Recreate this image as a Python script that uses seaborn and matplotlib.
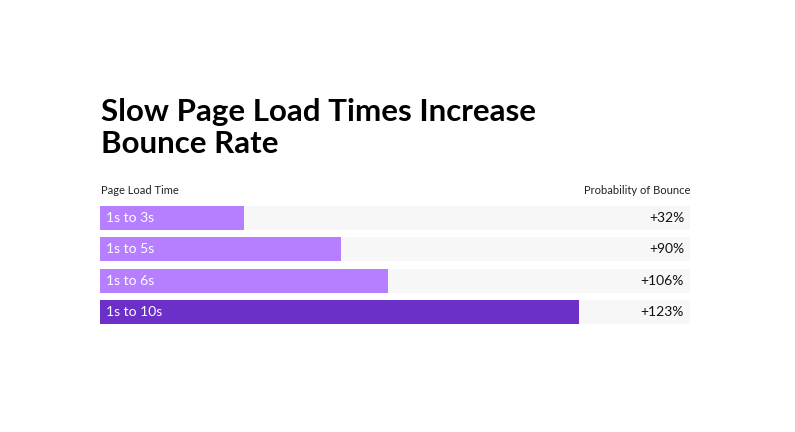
import matplotlib
matplotlib.use("Agg")
import matplotlib.pyplot as plt
import seaborn as sns
import pandas as pd

sns.set_theme(style="white")
plt.rcParams['font.family'] = ['Lato', 'DejaVu Sans']

# data
load_times = ["1s to 3s", "1s to 5s", "1s to 6s", "1s to 10s"]
bounce_labels = ["+32%", "+90%", "+106%", "+123%"]
bar_fill = [24.4, 40.8, 48.8, 81.2]   # bar length, % of the track
track = [100, 100, 100, 100]
bar_colors = ["#B57FFF", "#B57FFF", "#B57FFF", "#6A30C7"]
title_lines = ["Slow Page Load Times Increase", "Bounce Rate"]

df = pd.DataFrame({"time": load_times, "fill": bar_fill, "track": track})

W, H = 795, 432
fig = plt.figure(figsize=(W / 100, H / 100), dpi=100)

# axes placed in pixel terms: x 100..690, y 206..324
ax = fig.add_axes([100 / W, 1 - 324 / H, 590 / W, 118 / H])

sns.barplot(data=df, x="track", y="time", color="#F7F7F7", width=0.75,
            orient="h", ax=ax, linewidth=0, saturation=1)
sns.barplot(data=df, x="fill", y="time", hue="time", palette=bar_colors,
            width=0.75, orient="h", ax=ax, legend=False, linewidth=0,
            saturation=1)

ax.set_xlim(0, 100)
ax.set_ylim(3.375, -0.375)
ax.axis("off")

for i, (lab, val) in enumerate(zip(load_times, bounce_labels)):
    ax.text(1.1, i, lab, color="white", fontsize=10, va="center", ha="left")
    ax.text(99, i, val, color="#111111", fontsize=10, va="center", ha="right")

fig.text(101 / W, 1 - 190 / H, "Page Load Time", fontsize=8,
         color="#222222", va="center", ha="left")
fig.text(690 / W, 1 - 190 / H, "Probability of Bounce", fontsize=8,
         color="#222222", va="center", ha="right")

for k, line in enumerate(title_lines):
    fig.text(101 / W, 1 - (121 + 32 * k) / H, line, fontsize=22.5,
             fontweight="bold", color="black", ha="left", va="baseline")

fig.savefig("out.png", dpi=100, facecolor="white")
